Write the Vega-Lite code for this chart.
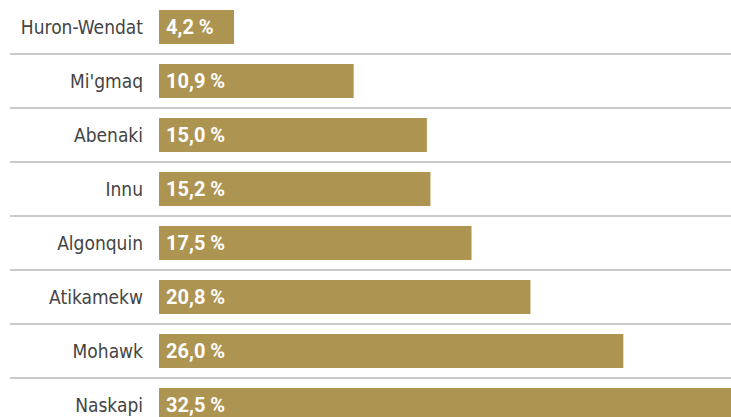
{
  "$schema": "https://vega.github.io/schema/vega-lite/v6.json",
  "autosize": "none",
  "padding": {"left": 10, "top": 0, "right": 0, "bottom": 0},
  "width": 721,
  "height": 432,
  "background": "white",
  "config": {
    "view": {"stroke": null},
    "locale": {"number": {"decimal": ",", "thousands": " ", "grouping": [3], "currency": ["", " $"], "percent": " %"}}
  },
  "data": {
    "values": [
      {"nation": "Huron-Wendat", "share": 0.042},
      {"nation": "Mi'gmaq", "share": 0.109},
      {"nation": "Abenaki", "share": 0.150},
      {"nation": "Innu", "share": 0.152},
      {"nation": "Algonquin", "share": 0.175},
      {"nation": "Atikamekw", "share": 0.208},
      {"nation": "Mohawk", "share": 0.260},
      {"nation": "Naskapi", "share": 0.325}
    ]
  },
  "layer": [
    {
      "mark": {"type": "rule", "color": "#b9b9b9", "strokeWidth": 1.5},
      "encoding": {
        "y": {"field": "nation", "type": "nominal", "sort": null, "bandPosition": 1, "scale": {"paddingInner": 0, "paddingOuter": 0}, "axis": null}
      }
    },
    {
      "mark": {"type": "bar", "color": "#AE9451", "height": {"band": 0.63}},
      "encoding": {
        "y": {"field": "nation", "type": "nominal", "sort": null},
        "x": {"field": "share", "type": "quantitative", "scale": {"domain": [-0.08344, 0.3203], "nice": false, "zero": false}, "axis": null},
        "x2": {"datum": 0}
      }
    },
    {
      "mark": {"type": "text", "align": "left", "baseline": "middle", "dx": 7, "dy": 1, "font": "Roboto", "fontWeight": "bold", "fontSize": 20, "color": "white"},
      "encoding": {
        "y": {"field": "nation", "type": "nominal", "sort": null},
        "x": {"datum": 0, "type": "quantitative"},
        "text": {"field": "share", "type": "quantitative", "format": ".1%"}
      }
    },
    {
      "mark": {"type": "text", "align": "right", "baseline": "middle", "dy": 1, "font": "DejaVu Sans Condensed", "fontSize": 19, "color": "#444444"},
      "encoding": {
        "y": {"field": "nation", "type": "nominal", "sort": null},
        "x": {"datum": -0.00896, "type": "quantitative"},
        "text": {"field": "nation", "type": "nominal"}
      }
    }
  ]
}
